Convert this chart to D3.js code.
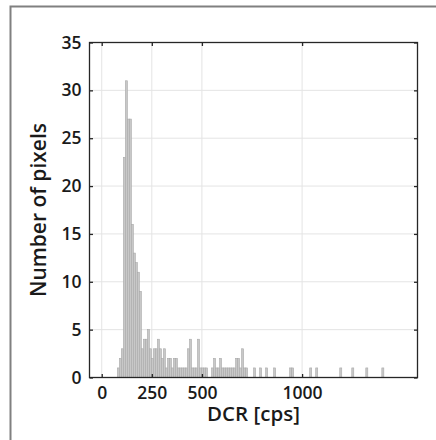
<!DOCTYPE html>
<html>
<head>
<meta charset="utf-8">
<script src="https://cdn.jsdelivr.net/npm/d3@7"></script>
<style>
  html, body { margin: 0; padding: 0; background: #fff; }
  svg { display: block; }
  text { font-family: "Open Sans", "Noto Sans", sans-serif; fill: #1a1a1a; font-weight: 600; }
</style>
</head>
<body>
<svg id="chart" width="436" height="440"></svg>
<script>
// ---- data ----
const binStart = 78;      // cps, left edge of first bin
const binWidth = 10;      // cps
const counts = [
  1, 2, 3, 23, 31, 27, 27, 16, 13, 12,
  11, 9, 3, 4, 4, 5, 3, 2, 3, 3,
  4, 3, 2, 3, 1, 2, 2, 1, 2, 2,
  1, 1, 1, 1, 1, 3, 4, 1, 1, 1,
  4, 1, 1, 1, 1, 0, 0, 1, 2, 1,
  1, 2, 1, 1, 1, 1, 1, 1, 1, 2,
  2, 1, 3, 1, 1, 0, 0, 0, 1, 0,
  0, 1, 0, 0, 1, 0, 0, 0, 1, 0,
  0, 0, 0, 0, 0, 0, 1, 1, 0, 0,
  0, 0, 0, 0, 0, 0, 1, 0, 0, 1,
  0, 0, 0, 0, 0, 0, 0, 0, 0, 0,
  0, 1, 0, 0, 0, 0, 0, 1, 0, 0,
  0, 0, 0, 0, 1, 0, 0, 0, 0, 0,
  0, 0, 1
];
const xTicks = [0, 250, 500, 1000];
const yTicks = [0, 5, 10, 15, 20, 25, 30, 35];
const xDomain = [-61, 1576];
const yDomain = [0, 35];
const xLabel = "DCR [cps]";
const yLabel = "Number of pixels";

// ---- layout ----
const svg = d3.select("#chart");
const L = 89.5, R = 417.5, T = 42.5, B = 377.5;
const x = d3.scaleLinear().domain(xDomain).range([L, R]);
const y = d3.scaleLinear().domain(yDomain).range([B, T]);

// outer frame (partially visible)
svg.append("path")
  .attr("d", "M10.5,440 V6.5 H436")
  .attr("fill", "none").attr("stroke", "#808080").attr("stroke-width", 2);

// grid
const grid = svg.append("g").attr("stroke", "#e4e4e4").attr("stroke-width", 1);
xTicks.forEach(t => grid.append("line")
  .attr("x1", x(t)).attr("x2", x(t)).attr("y1", T).attr("y2", B));
yTicks.filter(t => t > 0 && t < 35).forEach(t => grid.append("line")
  .attr("x1", L).attr("x2", R).attr("y1", y(t)).attr("y2", y(t)));

// bars
const bins = counts.map((c, i) => ({ x0: binStart + i * binWidth, x1: binStart + (i + 1) * binWidth, c }))
  .filter(d => d.c > 0);
svg.append("g").selectAll("rect").data(bins).join("rect")
  .attr("x", d => x(d.x0))
  .attr("width", d => x(d.x1) - x(d.x0))
  .attr("y", d => y(d.c))
  .attr("height", d => y(0) - y(d.c))
  .attr("fill", "#c8c8c8")
  .attr("stroke", "#a9a9a9")
  .attr("stroke-width", 0.6);

// axes with inward ticks
const tickLen = 3.5;
const axisColor = "#262626";
svg.append("rect").attr("x", L).attr("y", T).attr("width", R - L).attr("height", B - T)
  .attr("fill", "none").attr("stroke", axisColor).attr("stroke-width", 1.3);

const bottomAxis = d3.axisBottom(x).tickValues(xTicks).tickSize(-tickLen).tickPadding(9.5).tickFormat(d3.format("d"));
const topAxis = d3.axisTop(x).tickValues(xTicks).tickSize(-tickLen).tickFormat("");
const leftAxis = d3.axisLeft(y).tickValues(yTicks).tickSize(-tickLen).tickPadding(8).tickFormat(d3.format("d"));
const rightAxis = d3.axisRight(y).tickValues(yTicks).tickSize(-tickLen).tickFormat("");

function style(g) {
  g.select(".domain").remove();
  g.selectAll(".tick line").attr("stroke", axisColor).attr("stroke-width", 1.3);
  g.selectAll(".tick text").attr("fill", "#1a1a1a").style("font-size", "17.5px")
    .style("font-weight", 600)
    .style("font-family", '"Open Sans", "Noto Sans", sans-serif');
}
svg.append("g").attr("transform", `translate(0,${B})`).call(bottomAxis).call(style);
svg.append("g").attr("transform", `translate(0,${T})`).call(topAxis).call(style);
svg.append("g").attr("transform", `translate(${L},0)`).call(leftAxis).call(style);
svg.append("g").attr("transform", `translate(${R},0)`).call(rightAxis).call(style);

// labels
svg.append("text").attr("x", (L + R) / 2).attr("y", 421)
  .attr("text-anchor", "middle").style("font-size", "20.5px").text(xLabel);
svg.append("text").attr("transform", `translate(46,${(T + B) / 2}) rotate(-90)`)
  .attr("text-anchor", "middle").style("font-size", "21px").text(yLabel);
</script>
</body>
</html>
